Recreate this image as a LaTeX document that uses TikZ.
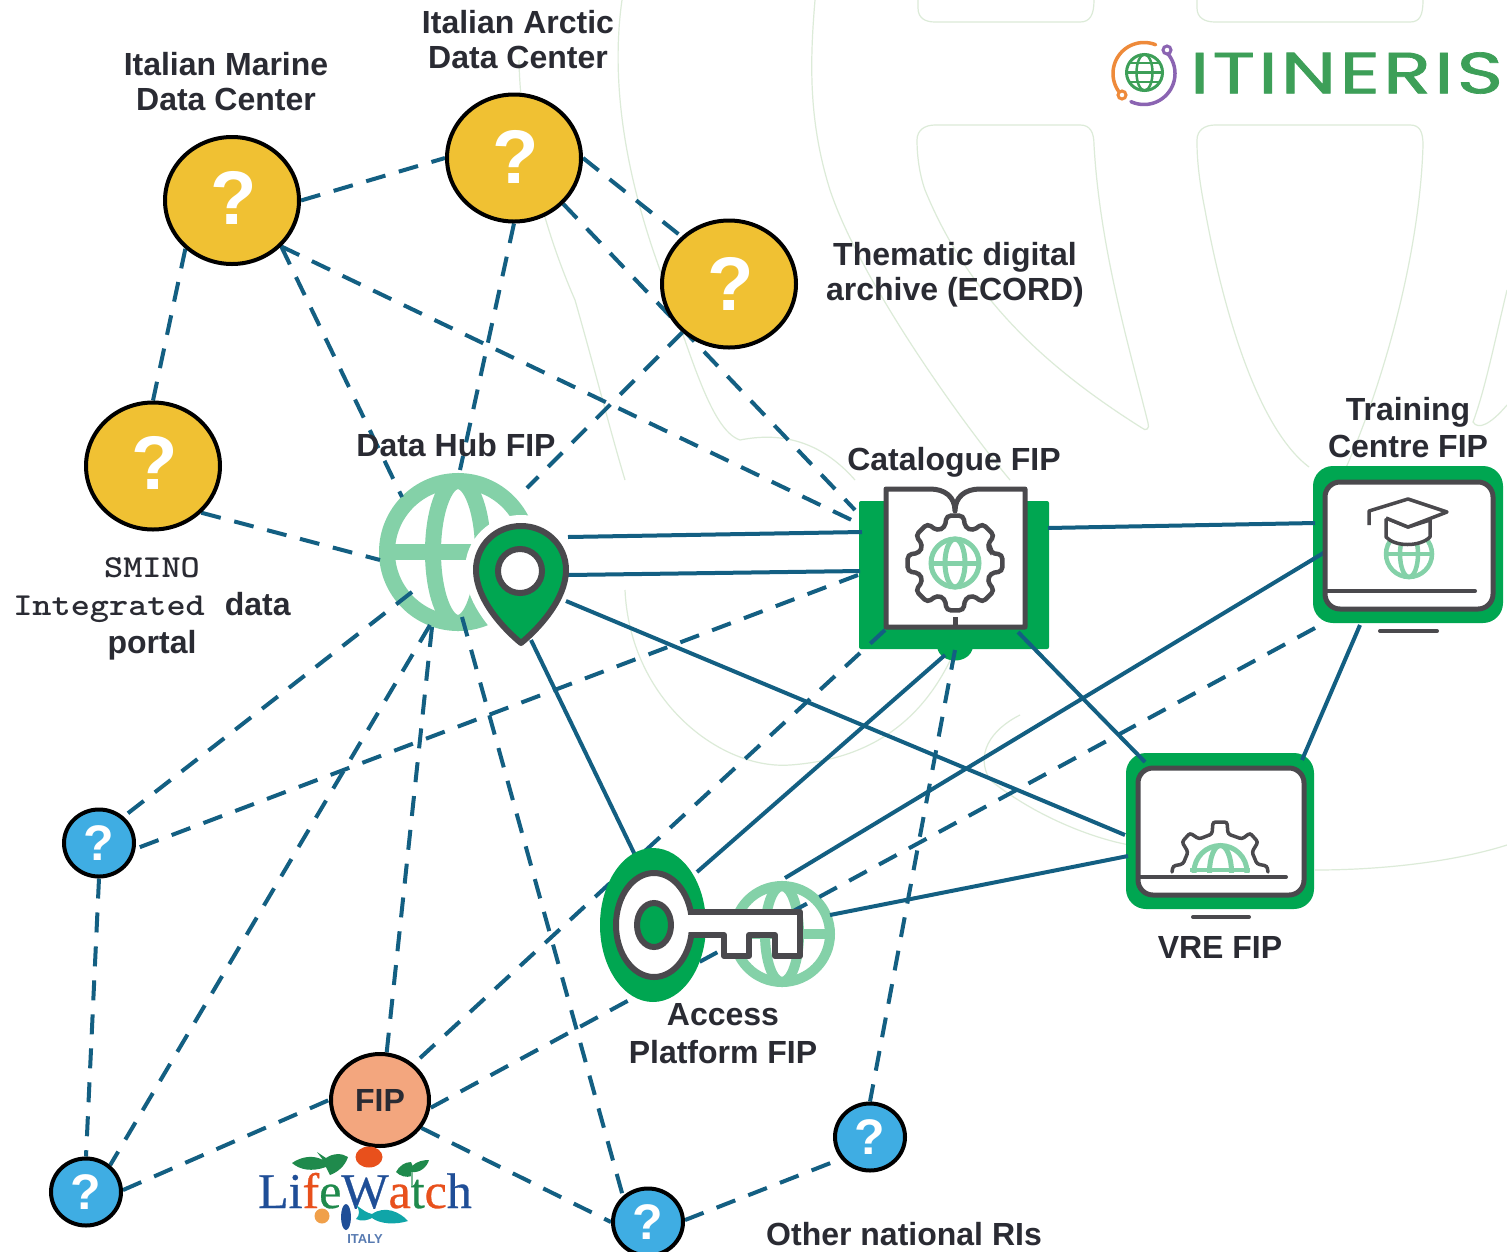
\documentclass[tikz,border=0pt]{standalone}
\usepackage{fontspec}
\setmainfont{Liberation Sans}
\newfontfamily\serifLW[FakeBold=0.6]{Liberation Serif}
\newfontfamily\logofont[LetterSpace=4,FakeBold=1.2]{Poppins}
\usetikzlibrary{shapes.geometric}
\definecolor{edgec}{HTML}{135F82}
\definecolor{ink}{HTML}{2A2B33}
\definecolor{yel}{HTML}{F0C133}
\definecolor{blu}{HTML}{3FADE3}
\definecolor{sal}{HTML}{F3A67E}
\definecolor{grn}{HTML}{00A651}
\definecolor{lgrn}{HTML}{84D1A8}
\definecolor{gry}{HTML}{4A494D}
\definecolor{wm}{HTML}{DCEBD8}
\definecolor{logog}{HTML}{3D9F58}
\definecolor{logoo}{HTML}{EE8A3A}
\definecolor{logop}{HTML}{8B64B2}
\definecolor{lwb}{HTML}{1F4E97}
\definecolor{lwo}{HTML}{E8501C}
\definecolor{lwg}{HTML}{1F8A4C}
\definecolor{lwt}{HTML}{10A5A8}
\definecolor{lwy}{HTML}{F0A04A}
\pgfdeclarelayer{wmlayer}\pgfdeclarelayer{bglayer}\pgfdeclarelayer{edgelayer}
\pgfsetlayers{wmlayer,bglayer,edgelayer,main}
\newcommand{\fs}[1]{\fontsize{#1}{#1}\selectfont}
% globe: cx cy r lensrx linewidth
\newcommand{\globeicon}[5]{%
  \draw[lgrn,line width=#5,fill=white] (#1,#2) circle[radius=#3];
  \draw[lgrn,line width=#5] (#1,#2) ellipse[x radius=#4,y radius=#3];
  \draw[lgrn,line width=#5] ({#1-#3},#2) -- ({#1+#3},#2);}
\tikzset{
  x=1pt,y=-1pt,
  dashedge/.style={edgec,line width=4pt,dash pattern=on 20pt off 14pt},
  solidedge/.style={edgec,line width=4pt},
  qbig/.style={ellipse,draw=black,line width=4pt,fill=yel,inner sep=0pt,minimum width=134pt,minimum height=127pt,text=white,font=\bfseries\fs{76}},
  qsmall/.style={ellipse,draw=black,line width=4pt,fill=blu,inner sep=0pt,minimum width=70pt,minimum height=67pt,text=white,font=\bfseries\fs{50}},
  fipnode/.style={ellipse,draw=black,line width=4pt,fill=sal,inner sep=0pt,minimum width=98pt,minimum height=92pt,text=ink,font=\bfseries\fs{32}},
  lbl/.style={text=ink,font=\bfseries\fs{32},align=center,inner sep=0pt},
  frame/.style={rectangle,fill=grn,rounded corners=20pt,inner sep=0pt},
  screen/.style={draw=gry,line width=5pt,fill=white,rounded corners=15pt},
  iconline/.style={draw=gry,line width=4pt,line cap=round,line join=round},
  wmline/.style={wm,line width=1.2pt},
}
\begin{document}
\begin{tikzpicture}
\useasboundingbox (0,0) rectangle (1507,1251);
\begin{pgfonlayer}{wmlayer}
\fill[white] (0,0) rectangle (1507,1251);
\begin{scope}[wmline]
\draw (918,0) -- (918,8) .. controls (918,18) and (925,22) .. (935,22) -- (1080,22) .. controls (1090,22) and (1094,15) .. (1094,0);
\draw (1197,0) -- (1197,8) .. controls (1197,18) and (1205,22) .. (1215,22) -- (1410,22) .. controls (1420,22) and (1423,15) .. (1423,0);
\draw (1142,428) .. controls (1050,370) and (970,300) .. (925,190) .. controls (918,170) and (917,150) .. (917,140) .. controls (917,130) and (925,125) .. (935,125) -- (1080,125) .. controls (1090,125) and (1094,132) .. (1094,145) .. controls (1100,250) and (1130,350) .. (1148,423) .. controls (1150,428) and (1146,432) .. (1142,428);
\draw (1309,467) .. controls (1260,430) and (1225,320) .. (1205,210) .. controls (1197,170) and (1197,150) .. (1197,140) .. controls (1197,130) and (1205,125) .. (1215,125) -- (1410,125) .. controls (1420,125) and (1423,132) .. (1423,145) .. controls (1420,250) and (1385,380) .. (1345,470);
\draw (1507,290) .. controls (1495,340) and (1485,390) .. (1473,422) .. controls (1478,430) and (1490,425) .. (1507,405);
\draw (815,0) .. controls (810,60) and (808,120) .. (830,190) .. controls (860,280) and (960,420) .. (1010,480);
\draw (622,0) .. controls (612,70) and (620,160) .. (660,270) .. controls (690,350) and (710,430) .. (740,440) .. controls (780,432) and (820,440) .. (855,480);
\draw (519,60) .. controls (520,130) and (540,220) .. (575,300) .. controls (595,370) and (610,430) .. (625,480);
\draw (625,590) .. controls (630,700) and (720,770) .. (790,765) .. controls (860,760) and (920,730) .. (955,650);
\draw (1020,715) .. controls (990,730) and (975,755) .. (990,780) .. controls (1040,820) and (1100,840) .. (1130,845);
\draw (1315,870) .. controls (1390,870) and (1460,860) .. (1507,845);
\end{scope}
\end{pgfonlayer}

% ---------- lower icon layers
\begin{pgfonlayer}{bglayer}
\node[frame,minimum width=190pt,minimum height=148pt,rounded corners=2pt] (cat) at (954,575) {};
\fill[grn] (937,647) .. controls (940,665) and (970,665) .. (973,647) -- cycle;
\node[frame,minimum width=190pt,minimum height=157pt] (tra) at (1408,544.5) {};
\node[frame,minimum width=188pt,minimum height=156pt] (vre) at (1220,831) {};
\globeicon{458}{552}{71}{25}{16pt}
\draw[white,line width=22pt,fill=white,line join=round] (521,643) .. controls (505,630) and (476,600) .. (476,570) .. controls (476,545) and (496,526) .. (521,526) .. controls (546,526) and (566,545) .. (566,570) .. controls (566,600) and (537,630) .. (521,643) -- cycle;
\globeicon{782}{934}{48}{17}{10pt}
\end{pgfonlayer}

% ---------- round nodes
\node[qbig] (mar) at (232,200.5) {\hspace*{3pt}\raisebox{6pt}{?}};
\node[qbig] (arc) at (514,158) {\hspace*{3pt}\raisebox{2pt}{?}};
\node[qbig] (the) at (729,284) {\hspace*{3pt}\raisebox{-2pt}{?}};
\node[qbig] (smi) at (153,466) {\hspace*{3pt}\raisebox{6pt}{?}};
\node[qsmall] (b1) at (99,843) {?};
\node[qsmall] (b2) at (86,1192) {?};
\node[qsmall] (b3) at (648,1222) {?};
\node[qsmall] (b4) at (870,1137) {?};
\node[fipnode] (fip) at (380,1100) {FIP};

% ---------- connector ports on the icons
\coordinate (hubA) at (402,497);
\coordinate (hubB) at (460,470);
\coordinate (hubC) at (527,488);
\coordinate (hubD) at (380,560);
\coordinate (hubE) at (412,592);
\coordinate (hubF) at (430,625);
\coordinate (hubG) at (432,627);
\coordinate (hubH) at (462,617);
\coordinate (hubI) at (568,537);
\coordinate (hubJ) at (568,575);
\coordinate (hubK) at (566,601);
\coordinate (hubL) at (531,640);
\coordinate (catA) at (862,525);
\coordinate (catB) at (855,510);
\coordinate (catC) at (858,575);
\coordinate (catD) at (885,630);
\coordinate (catE) at (955,650);
\coordinate (catF) at (862,532);
\coordinate (catG) at (860,571);
\coordinate (catH) at (1048,528);
\coordinate (catI) at (1018,632);
\coordinate (catJ) at (945,655);
\coordinate (traA) at (1315,628);
\coordinate (traB) at (1315,523);
\coordinate (traC) at (1325,552);
\coordinate (traD) at (1360,625);
\coordinate (vreA) at (1125,835);
\coordinate (vreB) at (1145,762);
\coordinate (vreC) at (1302,760);
\coordinate (vreD) at (1128,856);
\coordinate (accA) at (635,855);
\coordinate (accB) at (697,872);
\coordinate (accC) at (785,878);
\coordinate (accD) at (830,915);

% ---------- connectors
\begin{pgfonlayer}{edgelayer}
\draw[dashedge] (mar.0) -- (arc.180);
\draw[dashedge] (mar.226) -- (smi.90);
\draw[dashedge] (mar.317) -- (hubA);
\draw[dashedge] (mar.317) -- (catA);
\draw[dashedge] (arc.270) -- (hubB);
\draw[dashedge] (arc.0) -- (the.135);
\draw[dashedge] (arc.317) -- (catB);
\draw[dashedge] (the.226) -- (hubC);
\draw[dashedge] (smi.316) -- (hubD);
\draw[dashedge] (hubE) -- (b1.47);
\draw[dashedge] (hubF) -- (b2.48);
\draw[dashedge] (hubG) -- (fip.82);
\draw[dashedge] (hubH) -- (b3.134);
\draw[dashedge] (catC) -- (b1.351);
\draw[dashedge] (catD) -- (fip.47);
\draw[dashedge] (traA) -- (fip.351);
\draw[dashedge] (catE) -- (b4.90);
\draw[dashedge] (b1.270) -- (b2.90);
\draw[dashedge] (b2.3) -- (fip.180);
\draw[dashedge] (fip.326) -- (b3.180);
\draw[dashedge] (b3.3) -- (b4.217);
\draw[solidedge] (hubI) -- (catF);
\draw[solidedge] (hubJ) -- (catG);
\draw[solidedge] (hubK) -- (vreA);
\draw[solidedge] (hubL) -- (accA);
\draw[solidedge] (catH) -- (traB);
\draw[solidedge] (catI) -- (vreB);
\draw[solidedge] (catJ) -- (accB);
\draw[solidedge] (traC) -- (accC);
\draw[solidedge] (traD) -- (vreC);
\draw[solidedge] (vreD) -- (accD);
\end{pgfonlayer}

% ---------- Data hub pin
\draw[draw=gry,line width=6pt,fill=grn,line join=round] (521,643) .. controls (505,630) and (476,600) .. (476,570) .. controls (476,545) and (496,526) .. (521,526) .. controls (546,526) and (566,545) .. (566,570) .. controls (566,600) and (537,630) .. (521,643) -- cycle;
\draw[gry,line width=6pt,fill=white] (520,571) circle[radius=22];

% ---------- Catalogue book
\draw[draw=gry,line width=5pt,fill=white,line join=round] (886,489) -- (930,489) .. controls (945,489) and (955,497) .. (955,511) .. controls (955,497) and (965,489) .. (980,489) -- (1025,489) -- (1025,627) -- (886,627) -- cycle;
\draw[gry,line width=5pt] (955,617) -- (955,627);
\begin{scope}[shift={(955,563)}]
\draw[draw=gry,line width=4.5pt,fill=white,rounded corners=4pt] (-16:37) \foreach \a in {0,45,...,315} { -- (\a-16:37) -- (\a-10:48) -- (\a+10:48) -- (\a+16:37) } -- cycle;
\end{scope}
\globeicon{955}{563}{24}{10}{5pt}

% ---------- Training screen
\draw[screen] (1325,482) rectangle (1493,609);
\draw[iconline] (1327,591) -- (1475,591);
\draw[gry,line width=4pt,line cap=round] (1380,631) -- (1437,631);
\globeicon{1409}{554}{23}{9}{4.5pt}
\draw[draw=gry,line width=3.5pt,fill=white,line join=round] (1386,518) -- (1386,537) .. controls (1395,547) and (1420,547) .. (1430,537) -- (1430,520) -- (1408,527) -- cycle;
\draw[draw=gry,line width=3.5pt,fill=white,line join=round] (1369,525) -- (1369,511) -- (1408,499) -- (1447,512) -- (1408,527) -- (1386,518);

% ---------- VRE screen
\draw[screen] (1138,768) rectangle (1304,895);
\begin{scope}
\clip (1180,830) rectangle (1260,872);
\draw[lgrn,line width=5pt] (1220.5,872) circle[radius=26.5];
\draw[lgrn,line width=5pt] (1220.5,872) ellipse[x radius=11,y radius=26.5];
\draw[lgrn,line width=4pt] (1190,870) -- (1250,870);
\end{scope}
\draw[draw=gry,line width=3.5pt,rounded corners=2.5pt,line cap=round] (1172,872) -- (1173,866) -- (1183,864) -- (1188,852) -- (1182,842) -- (1190,833) -- (1199,839) -- (1212,834) -- (1213,822) -- (1227,822) -- (1228,834) -- (1242,839) -- (1250,833) -- (1258,842) -- (1252,852) -- (1257,864) -- (1267,866) -- (1268,872);
\draw[iconline] (1140,877) -- (1286,877);
\draw[gry,line width=4pt,line cap=round] (1193,917) -- (1249,917);

% ---------- Access key
\fill[grn] (653,925) ellipse[x radius=53,y radius=77];
\draw[draw=gry,line width=6pt,fill=white] (654,925) ellipse[x radius=38,y radius=52];
\draw[draw=gry,line width=6pt,fill=white,line join=round] (690,912) -- (800,912) -- (800,956) -- (775,956) -- (775,935) -- (749,935) -- (749,956) -- (724,956) -- (724,935) -- (690,935);
\fill[white] (682,915) rectangle (697,932);
\draw[draw=gry,line width=6pt,fill=grn] (654,925) ellipse[x radius=17,y radius=22];

% ---------- ITINERIS logo
\node[inner sep=0pt,text=logog,font=\logofont\fs{58}] (logotext) at (1346.5,73) {\scalebox{1.36}[1]{ITINERIS}};
\draw[logog,line width=3pt] (1144.5,72.5) circle[radius=18];
\draw[logog,line width=2.5pt] (1144.5,72.5) ellipse[x radius=8,y radius=18];
\draw[logog,line width=2.5pt] (1126.5,72.5) -- (1162.5,72.5);
\draw[logog,line width=2.5pt] (1129,63) -- (1160,63);
\draw[logog,line width=2.5pt] (1129,82) -- (1160,82);
\draw[logoo,line width=3.5pt,line cap=round] plot[domain=140:292,samples=40] ({1144+31*cos(\x)},{73.5+31*sin(\x)});
\draw[logop,line width=3.5pt,line cap=round] plot[domain=-40:115,samples=40] ({1144+31*cos(\x)},{73.5+31*sin(\x)});
\draw[logoo,line width=3pt,fill=white] (1122,95) circle[radius=4];
\draw[logop,line width=3pt,fill=white] (1167,50) circle[radius=4];

% ---------- LifeWatch logo
\node[inner sep=0pt,anchor=base,font=\serifLW\fs{50}] (lw) at (365,1208) {\textcolor{lwb}{Li}\textcolor{lwo}{f}\textcolor{lwg}{e}\textcolor{lwb}{W}\textcolor{lwo}{a}\textcolor{lwg}{t}\textcolor{lwo}{c}\textcolor{lwb}{h}};
\node[inner sep=0pt,font=\bfseries\fs{13},text=lwb!75] (lwi) at (365,1239) {ITALY};
\fill[lwo] (369,1157) ellipse[x radius=13.5,y radius=10.5];
\fill[lwg] (292,1163) .. controls (302,1156) and (314,1155) .. (323,1160) -- (317,1152) -- (326,1158) .. controls (333,1153) and (342,1153) .. (348,1157) .. controls (345,1166) and (338,1172) .. (330,1175) -- (326,1167) .. controls (312,1172) and (300,1170) .. (292,1163) -- cycle;
\fill[lwg] (396,1172) .. controls (399,1166) and (405,1162) .. (411,1162) .. controls (414,1167) and (413,1172) .. (412,1176) .. controls (406,1178) and (400,1176) .. (396,1172) -- cycle;
\fill[lwg] (412,1166) .. controls (417,1161) and (424,1160) .. (429,1160) .. controls (427,1167) and (420,1173) .. (412,1172) -- cycle;
\draw[lwg!60,line width=1.5pt] (412,1172) -- (412,1186);
\fill[lwy] (322,1216) circle[radius=7.5];
\fill[lwb] (346,1217) ellipse[x radius=5,y radius=13];
\fill[lwt] (356,1205) .. controls (363,1210) and (367,1213) .. (372,1214) .. controls (385,1205) and (400,1212) .. (408,1221) .. controls (395,1225) and (380,1224) .. (372,1218) .. controls (368,1220) and (362,1222) .. (356,1219) .. controls (360,1215) and (360,1210) .. (356,1205) -- cycle;

% ---------- labels
\node[lbl] (l1) at (226,81.5) {Italian Marine\\[3pt]Data Center};
\node[lbl] (l2) at (518,40) {Italian Arctic\\[3pt]Data Center};
\node[lbl] (l3) at (955,275) {Thematic digital\\[3pt]archive (ECORD)};
\node[lbl] (l4) at (456,445) {Data Hub FIP};
\node[lbl] (l5) at (954,462) {Catalogue FIP};
\node[lbl] (l6) at (1408,428) {Training\\[5pt]Centre FIP};
\node[lbl] (l7) at (1220,947) {VRE FIP};
\node[lbl] (l8) at (723,1033.5) {Access\\[6pt]Platform FIP};
\node[lbl] (l9) at (904,1234) {Other national RIs};
\node[lbl] (l10) at (152,609) {\scalebox{1.14}[1]{\ttfamily\bfseries\fs{32}SMINO}\\[6pt]\scalebox{1.14}[1]{\ttfamily\bfseries\fs{32}Integrated}\hspace{20pt}data\\[6pt]portal};
\end{tikzpicture}
\end{document}
